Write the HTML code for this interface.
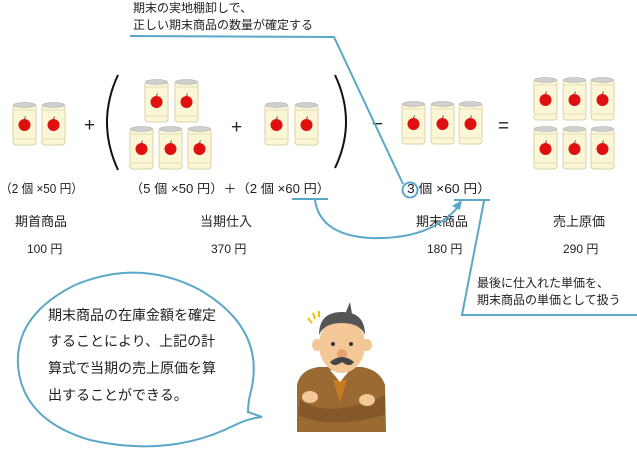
<!DOCTYPE html>
<html><head><meta charset="utf-8"><style>
html,body{margin:0;padding:0;background:#fff;width:637px;height:451px;overflow:hidden}
svg{display:block}
text{font-family:"Liberation Sans","Noto Sans CJK JP",sans-serif;fill:#222}
</style></head><body>
<svg width="637" height="451" viewBox="0 0 637 451" xmlns="http://www.w3.org/2000/svg">
<defs>
<g id="can">
<rect x="0" y="2" width="23" height="41" rx="3" fill="#fbf6d6" stroke="#d9d2a8" stroke-width="1"/>
<ellipse cx="11.5" cy="3" rx="11" ry="2.5" fill="#cfcfcf" stroke="#aaa" stroke-width="0.6"/>
<line x1="1" y1="8" x2="22" y2="8" stroke="#e3dcb4"/>
<line x1="1" y1="37" x2="22" y2="37" stroke="#e3dcb4"/>
<circle cx="11.5" cy="23" r="6" fill="#e01010"/>
<line x1="11.5" y1="17" x2="12.5" y2="14.5" stroke="#6a4a20" stroke-width="1"/>
</g>
</defs>
<use href="#can" x="13" y="102"/><use href="#can" x="42" y="102"/>
<use href="#can" x="145" y="79"/><use href="#can" x="175" y="79"/>
<use href="#can" x="130" y="126"/><use href="#can" x="159" y="126"/><use href="#can" x="188" y="126"/>
<use href="#can" x="265" y="102"/><use href="#can" x="295" y="102"/>
<use href="#can" x="402" y="101"/><use href="#can" x="431" y="101"/><use href="#can" x="459" y="101"/>
<use href="#can" x="534" y="77"/><use href="#can" x="563" y="77"/><use href="#can" x="591" y="77"/>
<use href="#can" x="534" y="126"/><use href="#can" x="563" y="126"/><use href="#can" x="591" y="126"/>
<g font-size="19">
<text x="84" y="131">+</text>
<text x="231" y="133">+</text>
<text x="372" y="130">−</text>
<text x="498" y="132">=</text>
</g>
<path d="M118 75 Q96 122 118 170" fill="none" stroke="#111" stroke-width="2"/>
<path d="M335 75 Q357 122 335 168" fill="none" stroke="#111" stroke-width="2"/>
<g font-size="12.5">
<text x="0" y="193" textLength="83" lengthAdjust="spacingAndGlyphs">（2 個 ×50 円）</text>
<text x="130" y="193" textLength="200" lengthAdjust="spacingAndGlyphs">（5 個 ×50 円）＋（2 個 ×60 円）</text>
<text x="407" y="193" textLength="84" lengthAdjust="spacingAndGlyphs">3 個 ×60 円）</text>
</g>
<g font-size="13">
<text x="15" y="226">期首商品</text><text x="27" y="253" font-size="12">100 円</text>
<text x="200" y="226">当期仕入</text><text x="211" y="253" font-size="12">370 円</text>
<text x="416" y="226">期末商品</text><text x="427" y="253" font-size="12">180 円</text>
<text x="553" y="226">売上原価</text><text x="563" y="253" font-size="12">290 円</text>
</g>
<g font-size="12">
<text x="133" y="12">期末の実地棚卸しで、</text>
<text x="133" y="29">正しい期末商品の数量が確定する</text>
<text x="477" y="287">最後に仕入れた単価を、</text>
<text x="477" y="304">期末商品の単価として扱う</text>
</g>
<g fill="none" stroke="#5ba7c9" stroke-width="2">
<path d="M130 36 L334 37 L403 184"/>
<circle cx="410" cy="190" r="7.5"/>
<line x1="292" y1="199" x2="328" y2="199"/>
<path d="M315 200 Q320 235 370 238 Q430 240 458 207"/>
<line x1="454" y1="200" x2="490" y2="200"/>
<path d="M484 201 L462 315 L637 315"/>
</g>
<path d="M462 200 L452 206 L460 210 Z" fill="#5ba7c9"/>
<path d="M250 395 Q268 330 200 290 Q140 258 75 285 Q15 315 18 365 Q22 420 90 440 Q170 458 235 425 Q250 418 262 417 L248 412 Q248 404 250 395 Z" fill="#fff" stroke="#5ba7c9" stroke-width="2"/>
<g font-size="14">
<text x="48" y="320">期末商品の在庫金額を確定</text>
<text x="48" y="346">することにより、上記の計</text>
<text x="48" y="373">算式で当期の売上原価を算</text>
<text x="48" y="400">出することができる。</text>
</g>
<g>
<path d="M297 432 L297 385 Q300 370 318 367 L362 367 Q380 370 385 385 L386 432 Z" fill="#9a6a32"/>
<path d="M333 380 L347 380 L340 402 Z" fill="#c87a20"/>
<path d="M330 370 L350 370 L340 382 Z" fill="#fff"/>
<path d="M300 400 Q330 420 385 395 L385 415 Q330 430 298 415 Z" fill="#845828"/>
<ellipse cx="310" cy="397" rx="8" ry="6" fill="#f3c896"/>
<ellipse cx="367" cy="400" rx="8" ry="6" fill="#f3c896"/>
<ellipse cx="317" cy="345" rx="5" ry="6" fill="#f3c896"/>
<ellipse cx="367" cy="345" rx="5" ry="6" fill="#f3c896"/>
<ellipse cx="342" cy="345" rx="23" ry="28" fill="#f3c896"/>
<path d="M319 335 Q319 312 342 312 Q365 312 365 335 Q360 323 342 323 Q324 323 319 335 Z" fill="#555"/>
<path d="M346 312 L350 302 L352 314 Z" fill="#555"/>
<circle cx="333" cy="344" r="2" fill="#333"/><circle cx="351" cy="344" r="2" fill="#333"/>
<ellipse cx="342" cy="354" rx="5" ry="5" fill="#e8a070"/>
<path d="M330 362 Q342 352 354 362 Q350 368 342 362 Q334 368 330 362 Z" fill="#444"/>
<g stroke="#f0c000" stroke-width="2"><line x1="308" y1="318" x2="312" y2="323"/><line x1="313" y1="313" x2="315" y2="319"/><line x1="319" y1="311" x2="319" y2="317"/></g>
</g>
</svg>
</body></html>
